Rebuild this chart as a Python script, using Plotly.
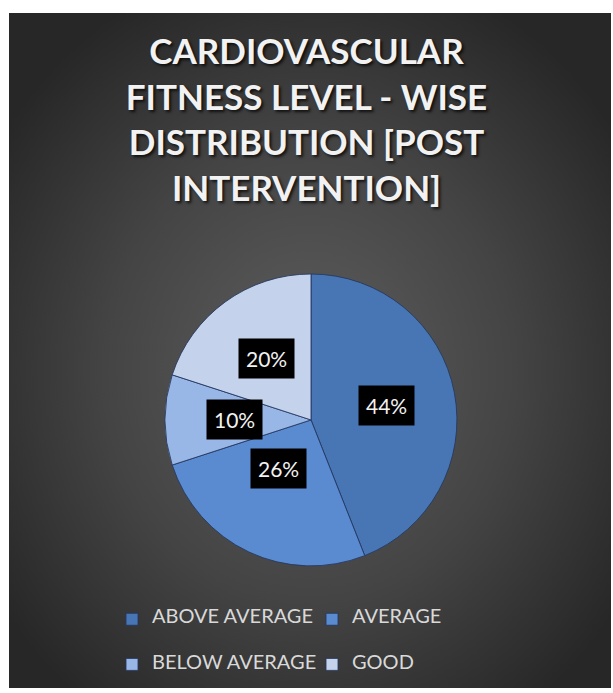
import base64
import math
import plotly.graph_objects as go

# ---- data ----
categories = ["ABOVE AVERAGE", "AVERAGE", "BELOW AVERAGE", "GOOD"]
percent_values = [44, 26, 10, 20]
slice_colors = ["#4876b4", "#5a8ad0", "#98b6e6", "#c4d2ec"]
title_lines = ["CARDIOVASCULAR", "FITNESS LEVEL - WISE", "DISTRIBUTION [POST", "INTERVENTION]"]

# ---- layout geometry (pixels) ----
W, H = 613, 693
ML, MR, MT, MB = 60, 60, 0, 0
PW, PH = W - ML - MR, H - MT - MB
CX, CY, R = 311, 423, 147          # pie centre / radius in screen px


def px_x(px):
    return (px - ML) / PW


def px_y(py):
    return (H - MB - py) / PH


# legend labels padded with blank lines to give the taller rows of the original
legend_labels = [f"<br><span style='font-size:20px'>{c}</span><br>" for c in categories]

fig = go.Figure()
fig.add_trace(go.Pie(
    labels=legend_labels,
    values=percent_values,
    sort=False,
    direction="clockwise",
    rotation=0,
    marker=dict(colors=slice_colors, line=dict(color="rgba(35,55,95,0.85)", width=1)),
    textinfo="none",
    hovertext=categories,
    hoverinfo="text+percent",
    domain=dict(x=[px_x(CX - R), px_x(CX + R)], y=[px_y(CY + R), px_y(CY - R)]),
))

# percentage labels in black boxes, placed at each slice's mid-angle
total = sum(percent_values)
cum = 0
annotations = []
for v in percent_values:
    theta = 2 * math.pi * (cum + v / 2) / total
    cum += v
    rr = 0.52 * R
    sx = CX + rr * math.sin(theta)
    sy = CY - rr * math.cos(theta)
    annotations.append(dict(
        x=px_x(sx), y=px_y(sy), xref="paper", yref="paper",
        text=f"{round(100 * v / total)}%", showarrow=False,
        font=dict(family="Lato", size=21, color="#f2f2f2"),
        bgcolor="black", borderpad=7,
    ))

# radial gradient background
svg = (
    "<svg xmlns='http://www.w3.org/2000/svg' width='602' height='680' viewBox='0 0 602 680' preserveAspectRatio='none'>"
    "<defs><radialGradient id='g' cx='0.5' cy='0.53' r='0.62'>"
    "<stop offset='0' stop-color='#5e5e5e'/>"
    "<stop offset='0.55' stop-color='#444444'/>"
    "<stop offset='1' stop-color='#272727'/>"
    "</radialGradient></defs>"
    "<rect width='602' height='680' fill='url(#g)'/></svg>"
)
src = "data:image/svg+xml;base64," + base64.b64encode(svg.encode()).decode()

fig.update_layout(
    width=W, height=H,
    margin=dict(l=ML, r=MR, t=MT, b=MB),
    paper_bgcolor="white",
    plot_bgcolor="white",
    title=dict(
        text="<br>".join(title_lines),
        x=0.5, xref="paper", xanchor="center",
        y=1 - 64 / H, yref="container", yanchor="top",
        font=dict(family="Lato", size=35, weight="bold", color="#f2f2f2",
                  shadow="2px 2px 3px rgba(0,0,0,0.75)"),
    ),
    showlegend=True,
    legend=dict(
        orientation="h",
        x=px_x(112), xanchor="left",
        y=px_y(596), yanchor="top",
        font=dict(family="Lato", size=10.8, color="#d9d9d9"),
        bgcolor="rgba(0,0,0,0)",
        traceorder="normal",
        entrywidth=155, entrywidthmode="pixels",
    ),
    annotations=annotations,
    images=[dict(
        source=src, xref="paper", yref="paper",
        x=px_x(9), y=px_y(13), sizex=(611 - 9) / PW, sizey=(693 - 13) / PH,
        xanchor="left", yanchor="top", sizing="stretch", layer="below",
    )],
)

fig.write_html("out.html")
